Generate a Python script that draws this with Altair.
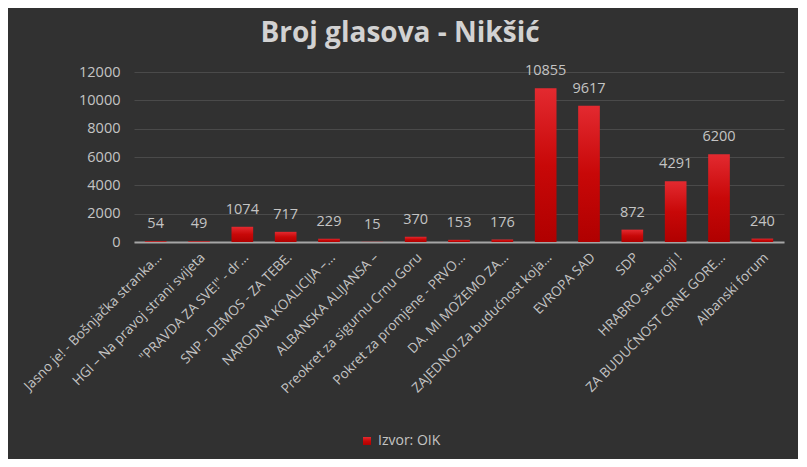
import altair as alt
import pandas as pd

parties = [
    "Jasno je! - Bošnjačka stranka…",
    "HGI – Na pravoj strani svijeta",
    "\"PRAVDA ZA SVE!\" - dr…",
    "SNP - DEMOS - ZA TEBE.",
    "NARODNA KOALICIJA –…",
    "ALBANSKA ALIJANSA –",
    "Preokret za sigurnu Crnu Goru",
    "Pokret za promjene - PRVO…",
    "DA. MI MOŽEMO ZA…",
    "ZAJEDNO! Za budućnost koja…",
    "EVROPA SAD",
    "SDP",
    "HRABRO se broji !",
    "ZA BUDUĆNOST CRNE GORE…",
    "Albanski forum",
]
votes = [54, 49, 1074, 717, 229, 15, 370, 153, 176, 10855, 9617, 872, 4291, 6200, 240]
series_name = ["Izvor: OIK"] * len(parties)
y_ticks = [0, 2000, 4000, 6000, 8000, 10000, 12000]

df = pd.DataFrame({"party": parties, "votes": votes, "series": series_name})

FONT = "Open Sans"
LABEL = "#c4c4c4"

x = alt.X("party:N", sort=parties, title=None,
          scale=alt.Scale(paddingInner=0.5, paddingOuter=0.25),
          axis=alt.Axis(labelAngle=-45, labelAlign="right", labelBaseline="middle",
                        labelPadding=13, labelOffset=4, labelLimit=400, ticks=False,
                        domain=True, domainColor="#a6a6a6", domainWidth=2,
                        labelFontSize=13.5, labelColor=LABEL, labelFont=FONT))
y = alt.Y("votes:Q", title=None,
          scale=alt.Scale(domain=[0, 12000], nice=False),
          axis=alt.Axis(values=y_ticks, tickCount=7, format="d", labelOverlap=False,
                        ticks=False, domain=False, labelPadding=14,
                        gridColor="#4a4a4a", gridWidth=1, labelFontSize=14.5,
                        labelColor=LABEL, labelFont=FONT))

bars = alt.Chart(df).mark_bar(
    color=alt.LinearGradient(
        gradient="linear", x1=0, y1=0, x2=0, y2=1,
        stops=[alt.GradientStop(color="#e32a30", offset=0),
               alt.GradientStop(color="#c80808", offset=0.5),
               alt.GradientStop(color="#b00000", offset=1)])
).encode(
    x=x, y=y,
    opacity=alt.Opacity("series:N", scale=alt.Scale(range=[1]),
                        legend=alt.Legend(title=None, orient="none", legendX=226, legendY=362,
                                          symbolType="square", symbolSize=64,
                                          symbolFillColor="#d00000", symbolStrokeWidth=0,
                                          labelFontSize=14, labelColor=LABEL, labelFont=FONT,
                                          labelOffset=4))
)

labels = alt.Chart(df).mark_text(
    dy=-13, baseline="alphabetic", fontSize=14.5, color=LABEL, font=FONT
).encode(x=x, y=y, text="votes:Q")

chart = alt.layer(bars, labels).properties(
    width=650, height=170,
    title=alt.TitleParams("Broj glasova - Nikšić", anchor="middle", dx=-59, offset=15,
                          fontSize=28, font=FONT, fontWeight="bold", color="#d2d2d2"),
    autosize=alt.AutoSizeParams(type="none"),
    padding={"left": 126, "top": 64, "right": 14, "bottom": 217},
).configure(background="#313131").configure_view(stroke=None)

chart.save("out.html", embed_options={"renderer": "svg", "actions": False})
